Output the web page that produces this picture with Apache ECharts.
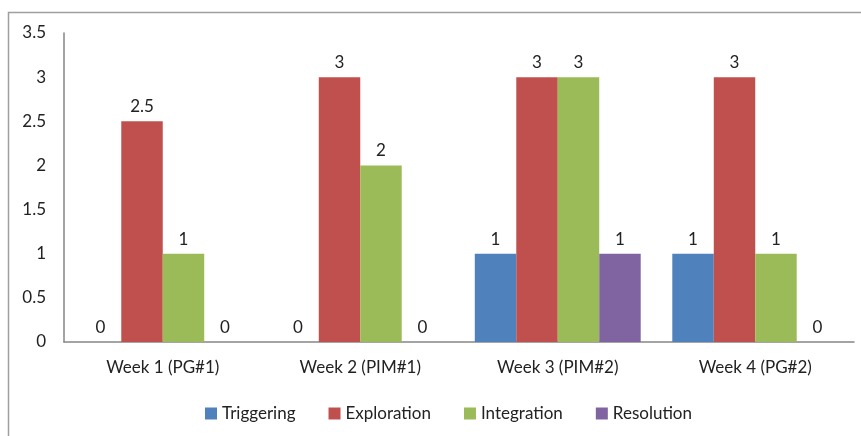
<!DOCTYPE html>
<html><head><meta charset="utf-8">
<script src="https://cdn.jsdelivr.net/npm/echarts@6/dist/echarts.min.js"></script>
<style>html,body{margin:0;padding:0;background:#fff}#c{width:861px;height:436px}</style>
</head><body><div id="c"></div>
<script>
const categories = ['Week 1 (PG#1)', 'Week 2 (PIM#1)', 'Week 3 (PIM#2)', 'Week 4 (PG#2)'];
const triggering = [0, 0, 1, 1];
const exploration = [2.5, 3, 3, 3];
const integration = [1, 2, 3, 1];
const resolution = [0, 0, 1, 0];
const seriesNames = ['Triggering', 'Exploration', 'Integration', 'Resolution'];
const colors = ['#4F81BD', '#C0504D', '#9BBB59', '#8064A2'];
const font = 'Lato, "Open Sans", sans-serif';
const chart = echarts.init(document.getElementById('c'));
const data = [triggering, exploration, integration, resolution];
chart.setOption({
  animation: false,
  graphic: [{type: 'rect', shape: {x: 8.5, y: 12.5, width: 900, height: 500}, style: {fill: 'none', stroke: '#a0a0a0', lineWidth: 1.5}, silent: true}],
  grid: {left: 64, right: 7, top: 33, bottom: 94, containLabel: false},
  legend: {
    top: 400, left: 200, itemWidth: 12, itemHeight: 12, itemGap: 33, icon: 'rect',
    textStyle: {fontFamily: font, fontSize: 17, color: '#222'},
    data: seriesNames
  },
  xAxis: {
    type: 'category', data: categories,
    axisLine: {lineStyle: {color: '#868686', width: 1.5}},
    axisTick: {show: false},
    axisLabel: {fontFamily: font, fontSize: 17, color: '#222', margin: 17}
  },
  yAxis: {
    type: 'value', min: 0, max: 3.5, interval: 0.5,
    axisLine: {show: true, lineStyle: {color: '#868686', width: 1.5}},
    axisTick: {show: false},
    splitLine: {show: false},
    axisLabel: {fontFamily: font, fontSize: 17, color: '#222', margin: 18}
  },
  series: data.map((d, i) => ({
    name: seriesNames[i], type: 'bar', data: d,
    barGap: '0%', barCategoryGap: '16%',
    itemStyle: {color: colors[i]},
    label: {show: true, position: 'top', distance: 6, fontFamily: font, fontSize: 17, color: '#222'}
  }))
});
</script></body></html>
